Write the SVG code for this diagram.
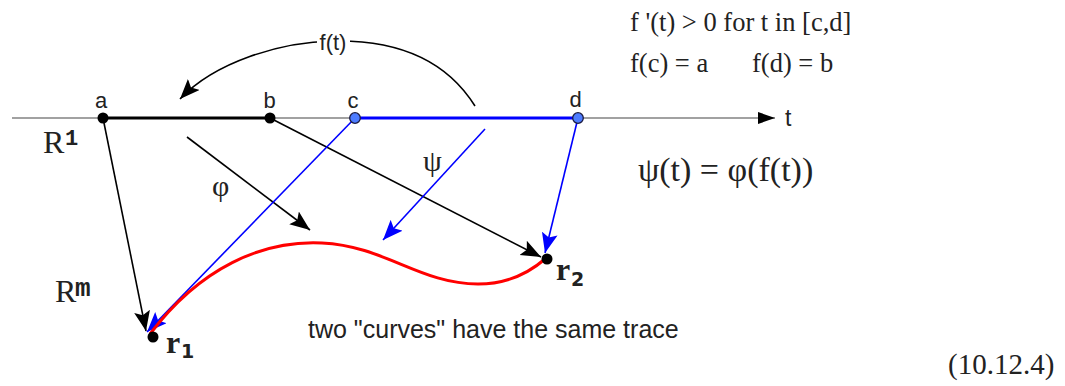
<svg xmlns="http://www.w3.org/2000/svg" width="1065" height="386" viewBox="0 0 1065 386">
<style>
.sans{font-family:"Liberation Sans",Arial,sans-serif;fill:#222}
.serif{font-family:"Liberation Serif","Times New Roman",serif;fill:#222}
.mono{font-family:"Liberation Mono","Courier New",monospace;font-weight:bold;fill:#222}
.bk{stroke:#000;stroke-width:1.6;fill:none}
.bl{stroke:#0000ff;stroke-width:1.6;fill:none}
.rl{font-family:"Liberation Serif","Times New Roman",serif;font-weight:bold;font-size:32px;fill:#222}
.rs{font-family:"DejaVu Sans",sans-serif;font-weight:bold;font-size:19px;fill:#222}
</style>
<defs>
<marker id="ab" markerUnits="userSpaceOnUse" markerWidth="21" markerHeight="17" refX="20" refY="8" orient="auto">
<path d="M0,0 L20,8 L0,16 L4,8 z" fill="#000"/>
</marker>
<marker id="ablue" markerUnits="userSpaceOnUse" markerWidth="21" markerHeight="17" refX="20" refY="8" orient="auto">
<path d="M0,0 L20,8 L0,16 L4,8 z" fill="#0000ff"/>
</marker>
<marker id="axis" markerUnits="userSpaceOnUse" markerWidth="18" markerHeight="12" refX="17" refY="6" orient="auto">
<path d="M0,0 L17,6 L0,12 z" fill="#000"/>
</marker>
</defs>
<rect width="1065" height="386" fill="#fff"/>

<g id="connectors">
<line x1="12" y1="118" x2="775" y2="118" stroke="#444" stroke-width="1.2" marker-end="url(#axis)"/>
<line x1="103" y1="118" x2="270" y2="118" stroke="#000" stroke-width="3.2"/>
<line x1="355" y1="118" x2="578" y2="118" stroke="#0000ff" stroke-width="3.2"/>
<path class="bk" d="M475,106 C440,50 380,40 333,41 C280,42 215,62 180,99" marker-end="url(#ab)"/>
<line class="bk" x1="103" y1="118" x2="146" y2="331" marker-end="url(#ab)"/>
<line class="bk" x1="270" y1="118" x2="541" y2="257" marker-end="url(#ab)"/>
<line class="bk" x1="187" y1="137" x2="310" y2="230" marker-end="url(#ab)"/>
<line class="bl" x1="355" y1="118" x2="147" y2="332" marker-end="url(#ablue)"/>
<line class="bl" x1="578" y1="118" x2="545" y2="253" marker-end="url(#ablue)"/>
<line class="bl" x1="485" y1="129" x2="383" y2="240" marker-end="url(#ablue)"/>
<path d="M150,334 C200,268 262,240 322,243 C385,246 420,284 478,284 C508,284 530,272 545,259" stroke="#ff0000" stroke-width="3" fill="none"/>
</g>

<g id="label-ft">
<rect x="317" y="32" width="33" height="22" fill="#fff"/>
<text class="sans" x="333" y="50" font-size="22" text-anchor="middle">f(t)</text>
</g>

<g id="point-a">
<circle cx="103" cy="118" r="5.5" fill="#000"/>
<text class="sans" x="101" y="108" font-size="22" text-anchor="middle">a</text>
</g>
<g id="point-b">
<circle cx="270" cy="118" r="5.5" fill="#000"/>
<text class="sans" x="269.5" y="108" font-size="22" text-anchor="middle">b</text>
</g>
<g id="point-c">
<circle cx="355" cy="118" r="5.3" fill="#4d7cff" stroke="#1a1a40" stroke-width="1.3"/>
<text class="sans" x="353" y="108" font-size="22" text-anchor="middle">c</text>
</g>
<g id="point-d">
<circle cx="578" cy="118" r="5.3" fill="#4d7cff" stroke="#1a1a40" stroke-width="1.3"/>
<text class="sans" x="575.5" y="107" font-size="22" text-anchor="middle">d</text>
</g>
<g id="axis-label">
<text class="sans" x="785" y="126" font-size="23">t</text>
</g>

<g id="point-r1">
<circle cx="153" cy="337" r="5.5" fill="#000"/>
<text class="rl" x="166" y="353">r</text>
<text class="rs" x="181" y="358">1</text>
</g>
<g id="point-r2">
<circle cx="547" cy="259" r="5.5" fill="#000"/>
<text class="rl" x="556" y="280">r</text>
<text class="rs" x="571" y="286">2</text>
</g>

<g id="label-R1">
<text class="serif" x="43" y="153" font-size="32">R</text>
<text class="mono" x="65" y="145" font-size="22">1</text>
</g>
<g id="label-Rm">
<text class="serif" x="55" y="302" font-size="32">R</text>
<text class="mono" x="75" y="296" font-size="26">m</text>
</g>

<g id="label-phi">
<text class="serif" x="212" y="196" font-size="30">φ</text>
</g>
<g id="label-psi">
<text class="serif" x="423" y="171" font-size="30">ψ</text>
</g>

<g id="notes">
<text class="serif" x="630" y="31" font-size="26.5">f '(t) &gt; 0 for t in [c,d]</text>
<text class="serif" x="630" y="72" font-size="26.5">f(c) = a</text>
<text class="serif" x="752" y="72" font-size="26.5">f(d) = b</text>
<text class="serif" x="638" y="181" font-size="34">ψ(t) = φ(f(t))</text>
<text class="sans" x="308" y="338" font-size="25">two "curves" have the same trace</text>
<text class="serif" x="948" y="374" font-size="29">(10.12.4)</text>
</g>
</svg>
